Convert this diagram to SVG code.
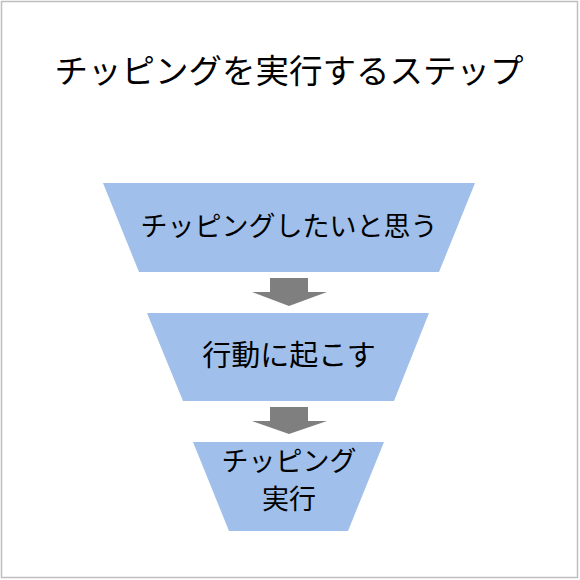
<svg xmlns="http://www.w3.org/2000/svg" width="580" height="580" viewBox="0 0 580 580">
<style>
.t{font-family:"Noto Sans CJK JP","Noto Sans",sans-serif;fill:#000;text-anchor:middle}
.trap{fill:#A0BFEA}
.arr{fill:#7F7F7F}
</style>
<rect x="0" y="0" width="580" height="580" fill="#fff"/>
<rect x="1.5" y="1.5" width="576" height="576" fill="none" stroke="#BFBFBF" stroke-width="1.5"/>
<text class="t" x="289" y="83" font-size="33.5">チッピングを実行するステップ</text>
<g id="node1">
<polygon class="trap" points="103,183 475,183 439,272 139,272"/>
<text class="t" x="289" y="236" font-size="27">チッピングしたいと思う</text>
</g>
<g id="node2">
<polygon class="trap" points="147,313 429,313 394,401 183,401"/>
<text class="t" x="289" y="366" font-size="29">行動に起こす</text>
</g>
<g id="node3">
<polygon class="trap" points="193,442 384,442 348,531 229,531"/>
<text class="t" x="289" y="471" font-size="27">チッピング</text>
<text class="t" x="289" y="509" font-size="27">実行</text>
</g>
<g id="connectors">
<polygon class="arr" points="270,278 308,278 308,292 327,292 289,306 252,292 270,292"/>
<polygon class="arr" points="270,407 308,407 308,421 327,421 289,434 252,421 270,421"/>
</g>
</svg>
